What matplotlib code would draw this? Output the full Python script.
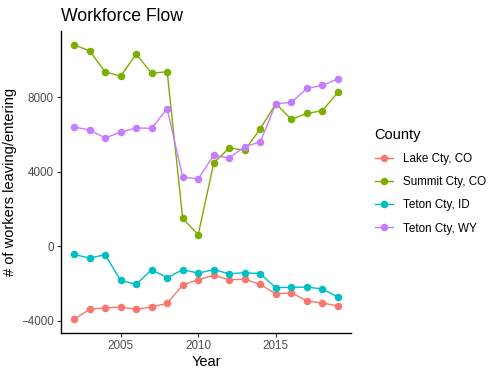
import numpy as np
import matplotlib.pyplot as plt
from matplotlib.lines import Line2D

plt.rcParams['font.family'] = ['Liberation Sans', 'DejaVu Sans']

years = list(range(2002, 2020))
counties = ["Lake Cty, CO", "Summit Cty, CO", "Teton Cty, ID", "Teton Cty, WY"]
colors = ["#F8766D", "#7CAE00", "#00BFC4", "#C77CFF"]

lake = [-3910, -3375, -3300, -3250, -3375, -3250, -3055, -2070, -1785, -1555,
        -1785, -1765, -2035, -2550, -2480, -2930, -3035, -3195]
summit = [10820, 10500, 9375, 9140, 10320, 9300, 9375, 1500, 630, 4480,
          5285, 5160, 6320, 7660, 6820, 7140, 7285, 8270]
teton_id = [-430, -625, -445, -1820, -2035, -1250, -1680, -1250, -1430, -1250,
            -1465, -1410, -1465, -2215, -2195, -2180, -2285, -2715]
teton_wy = [6410, 6250, 5820, 6140, 6355, 6340, 7395, 3715, 3625, 4895,
            4750, 5360, 5605, 7660, 7730, 8480, 8645, 9000]

series = [lake, summit, teton_id, teton_wy]

fig = plt.figure(figsize=(5.03, 3.75), dpi=100)
ax = fig.add_axes([0.121, 0.112, 0.577, 0.805])

for vals, c in zip(series, colors):
    ax.plot(years, vals, color=c, lw=1.0, marker="o", ms=4.4)

# ggplot style 5% padding
ymin = min(min(s) for s in series)
ymax = max(max(s) for s in series)
pad = (ymax - ymin) * 0.05
ax.set_ylim(ymin - pad, ymax + pad)
ax.set_xlim(2002 - 17 * 0.05, 2019 + 17 * 0.05)
ax.set_xticks([2005, 2010, 2015])
ax.set_yticks([-4000, 0, 4000, 8000])

for s in ["top", "right"]:
    ax.spines[s].set_visible(False)
for s in ["left", "bottom"]:
    ax.spines[s].set_linewidth(1.0)
ax.tick_params(labelsize=8.4, labelcolor="#4d4d4d", color="#333333",
               length=3, width=0.8, pad=2)

ax.set_xlabel("Year", fontsize=10.5, labelpad=2)
ax.set_ylabel("# of workers leaving/entering", fontsize=10.5, labelpad=3)
ax.set_title("Workforce Flow", fontsize=12.7, loc="left", pad=7)

handles = [Line2D([], [], color=c, lw=1.0, marker="o", ms=4.4) for c in colors]
leg = fig.legend(handles, counties, title="County", loc="upper left",
                 bbox_to_anchor=(0.724, 0.686), frameon=False, fontsize=8.4,
                 title_fontsize=10.5, handlelength=1.55, handletextpad=0.85,
                 labelspacing=0.95, alignment="left")

fig.savefig("out.png", dpi=100)
